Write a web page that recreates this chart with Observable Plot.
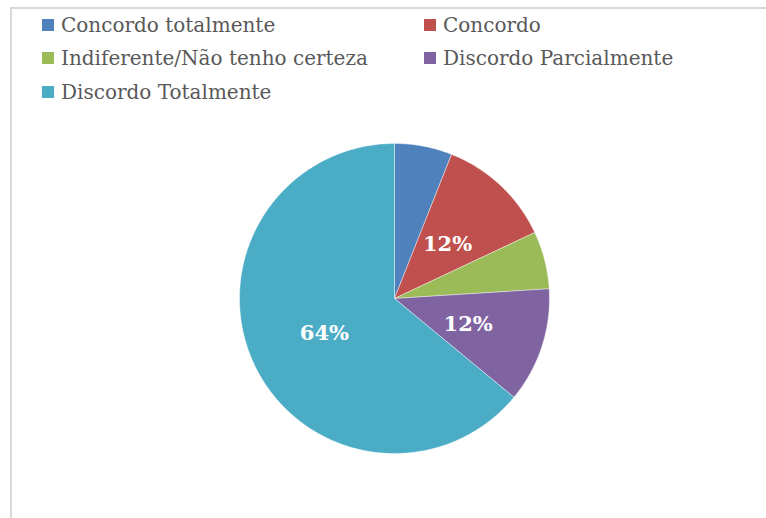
<!DOCTYPE html>
<html>
<head>
<meta charset="utf-8">
<script src="https://cdn.jsdelivr.net/npm/d3@7"></script>
<script src="https://cdn.jsdelivr.net/npm/@observablehq/plot@0.6"></script>
<style>
  html, body { margin: 0; padding: 0; background: #fff; }
  #wrap { position: relative; width: 766px; height: 518px; overflow: hidden; }
  #frame { position: absolute; left: 10px; top: 7px; width: 900px; height: 700px;
           border-top: 2px solid #d9d9d9; border-left: 2px solid #d9d9d9; }
  #chart { position: absolute; left: 0; top: 0; }
  #legend { position: absolute; left: 42px; top: 8px; display: grid;
            grid-template-columns: 382px auto; grid-auto-rows: 33.5px;
            font-family: "DejaVu Serif", serif; font-size: 20px; color: #595959; }
  .item { display: flex; align-items: center; white-space: nowrap; }
  .sw { width: 12px; height: 12px; margin-right: 7px; flex: none; }
</style>
</head>
<body>
<div id="wrap">
  <div id="frame"></div>
  <div id="chart"></div>
  <div id="legend"></div>
</div>
<script>
const categories = ["Concordo totalmente", "Concordo", "Indiferente/Não tenho certeza", "Discordo Parcialmente", "Discordo Totalmente"];
const values = [6, 12, 6, 12, 64];
const colors = ["#4F81BD", "#C0504D", "#9BBB59", "#8064A2", "#4BACC6"];
const shownLabels = [false, true, false, true, true];

const total = d3.sum(values);
const slices = [];
const labels = [];
let acc = 0;
categories.forEach((cat, i) => {
  const a0 = acc / total * 2 * Math.PI;
  acc += values[i];
  const a1 = acc / total * 2 * Math.PI;
  slices.push({cat, x: 0, y: 0});
  const n = Math.max(2, Math.ceil((a1 - a0) / (Math.PI / 180)));
  for (let k = 0; k <= n; k++) {
    const a = a0 + (a1 - a0) * k / n;
    slices.push({cat, x: Math.sin(a), y: Math.cos(a)});
  }
  slices.push({cat, x: 0, y: 0});
  if (shownLabels[i]) {
    const am = (a0 + a1) / 2;
    labels.push({cat, x: 0.5 * Math.sin(am), y: 0.5 * Math.cos(am),
                 text: Math.round(values[i] / total * 100) + "%"});
  }
});

const plot = Plot.plot({
  width: 766,
  height: 518,
  marginLeft: 239,
  marginRight: 217,
  marginTop: 143,
  marginBottom: 65,
  x: {domain: [-1, 1], axis: null},
  y: {domain: [-1, 1], axis: null},
  color: {domain: categories, range: colors},
  style: {background: "transparent", overflow: "visible"},
  marks: [
    Plot.line(slices, {x: "x", y: "y", z: "cat", fill: "cat", stroke: "#ffffff", strokeWidth: 0.6, strokeOpacity: 0.7, curve: "linear"}),
    Plot.text(labels, {x: "x", y: "y", text: "text", fill: "#ffffff", dy: 2,
      fontFamily: "DejaVu Serif", fontWeight: "bold", fontSize: 21})
  ]
});
document.getElementById("chart").appendChild(plot);

const legend = document.getElementById("legend");
categories.forEach((cat, i) => {
  const div = document.createElement("div");
  div.className = "item";
  const sw = document.createElement("span");
  sw.className = "sw";
  sw.style.background = colors[i];
  div.appendChild(sw);
  div.appendChild(document.createTextNode(cat));
  legend.appendChild(div);
});
</script>
</body>
</html>
